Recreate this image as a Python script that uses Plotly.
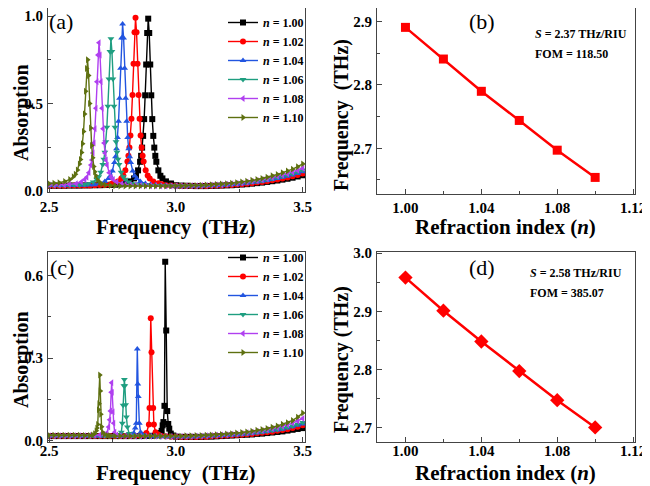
import plotly.graph_objects as go

SERIF = "Liberation Serif"
FRAME = "#444444"

N_LABELS = ["1.00", "1.02", "1.04", "1.06", "1.08", "1.10"]
COLORS = ["#000000", "#ff0000", "#2255e0", "#1f9e80", "#b040f0", "#5e7010"]
SYMBOLS = ["square", "circle", "triangle-up", "triangle-down", "triangle-left", "triangle-right"]

# ---------------- panel (a): absorption spectra (frequency THz, absorption) ----------------
A_N100 = [
    (2.50, .030), (2.52, .030), (2.54, .030), (2.56, .030), (2.58, .031), (2.60, .031), (2.62, .031), (2.64, .032),
    (2.66, .032), (2.68, .033), (2.70, .033), (2.72, .034), (2.74, .035), (2.76, .036), (2.78, .038),
    (2.801, .043), (2.821, .055), (2.835, .072), (2.843, .087), (2.851, .118), (2.859, .167), (2.863, .201),
    (2.867, .248), (2.871, .315), (2.875, .411), (2.879, .547), (2.883, .723), (2.887, .903), (2.891, .985),
    (2.895, .903), (2.899, .723), (2.903, .547), (2.907, .411), (2.911, .315), (2.915, .248), (2.919, .201),
    (2.923, .167), (2.931, .118), (2.939, .087), (2.947, .072), (2.961, .055), (2.981, .043),
    (3.00, .033), (3.02, .031), (3.04, .030), (3.06, .029), (3.08, .028), (3.10, .028), (3.12, .028), (3.14, .029),
    (3.16, .030), (3.18, .031), (3.20, .032), (3.22, .033), (3.24, .035), (3.26, .037), (3.28, .039), (3.30, .042),
    (3.32, .045), (3.34, .048), (3.36, .052), (3.38, .056), (3.40, .060), (3.42, .065), (3.44, .070), (3.46, .076),
    (3.48, .083), (3.50, .090),
]
A_N102 = [
    (2.50, .030), (2.52, .030), (2.54, .030), (2.56, .030), (2.58, .031), (2.60, .031), (2.62, .031), (2.64, .032),
    (2.66, .032), (2.68, .033), (2.70, .034), (2.72, .035), (2.74, .037),
    (2.751, .044), (2.771, .055), (2.785, .072), (2.793, .088), (2.801, .118), (2.809, .168), (2.813, .202),
    (2.817, .249), (2.821, .317), (2.825, .413), (2.829, .549), (2.833, .727), (2.837, .907), (2.841, .990),
    (2.845, .907), (2.849, .727), (2.853, .549), (2.857, .413), (2.861, .317), (2.865, .249), (2.869, .202),
    (2.873, .168), (2.881, .118), (2.889, .088), (2.897, .072), (2.911, .055), (2.931, .044), (2.945, .038),
    (2.96, .033), (2.98, .031), (3.00, .030), (3.02, .029), (3.04, .028), (3.06, .028), (3.08, .028), (3.10, .028),
    (3.12, .029), (3.14, .030), (3.16, .031), (3.18, .032), (3.20, .034), (3.22, .035), (3.24, .037), (3.26, .039),
    (3.28, .042), (3.30, .045), (3.32, .048), (3.34, .052), (3.36, .056), (3.38, .061), (3.40, .066), (3.42, .071),
    (3.44, .077), (3.46, .084), (3.48, .092), (3.50, .100),
]
A_N104 = [
    (2.50, .031), (2.52, .031), (2.54, .031), (2.56, .031), (2.58, .032), (2.60, .032), (2.62, .033), (2.64, .033),
    (2.66, .034), (2.68, .036),
    (2.700, .043), (2.720, .054), (2.734, .071), (2.742, .086), (2.750, .115), (2.758, .163), (2.762, .196),
    (2.766, .241), (2.770, .306), (2.774, .399), (2.778, .530), (2.782, .701), (2.786, .875), (2.790, .955),
    (2.794, .875), (2.798, .701), (2.802, .530), (2.806, .399), (2.810, .306), (2.814, .241), (2.818, .196),
    (2.822, .163), (2.830, .115), (2.838, .086), (2.846, .071), (2.860, .054), (2.880, .043),
    (2.90, .037), (2.92, .034), (2.94, .032), (2.96, .031), (2.98, .030), (3.00, .029), (3.02, .028), (3.04, .028),
    (3.06, .028), (3.08, .029), (3.10, .029), (3.12, .030), (3.14, .031), (3.16, .032), (3.18, .033), (3.20, .035),
    (3.22, .037), (3.24, .039), (3.26, .041), (3.28, .044), (3.30, .048), (3.32, .052), (3.34, .056), (3.36, .060),
    (3.38, .066), (3.40, .072), (3.42, .078), (3.44, .084), (3.46, .091), (3.48, .100), (3.50, .110),
]
A_N106 = [
    (2.50, .032), (2.52, .032), (2.54, .032), (2.56, .033), (2.58, .033), (2.60, .034), (2.62, .035), (2.64, .037),
    (2.654, .042), (2.674, .052), (2.688, .067), (2.696, .081), (2.704, .107), (2.712, .151), (2.716, .181),
    (2.720, .222), (2.724, .281), (2.728, .365), (2.732, .485), (2.736, .640), (2.740, .798), (2.744, .870),
    (2.748, .798), (2.752, .640), (2.756, .485), (2.760, .365), (2.764, .281), (2.768, .222), (2.772, .181),
    (2.776, .151), (2.784, .107), (2.792, .081), (2.800, .067), (2.814, .052), (2.834, .042),
    (2.86, .036), (2.88, .034), (2.90, .032), (2.92, .031), (2.94, .030), (2.96, .029), (2.98, .029), (3.00, .028),
    (3.02, .028), (3.04, .028), (3.06, .029), (3.08, .029), (3.10, .030), (3.12, .031), (3.14, .032), (3.16, .033),
    (3.18, .035), (3.20, .037), (3.22, .039), (3.24, .041), (3.26, .044), (3.28, .047), (3.30, .051), (3.32, .055),
    (3.34, .059), (3.36, .064), (3.38, .070), (3.40, .078), (3.42, .084), (3.44, .091), (3.46, .099), (3.48, .109),
    (3.50, .120),
]
A_N108 = [
    (2.50, .034), (2.52, .034), (2.54, .035), (2.56, .036), (2.58, .038),
    (2.607, .042), (2.627, .052), (2.641, .066), (2.649, .079), (2.657, .105), (2.665, .148), (2.669, .177),
    (2.673, .217), (2.677, .274), (2.681, .356), (2.685, .473), (2.689, .624), (2.693, .777), (2.697, .848),
    (2.701, .777), (2.705, .624), (2.709, .473), (2.713, .356), (2.717, .274), (2.721, .217), (2.725, .177),
    (2.729, .148), (2.737, .105), (2.745, .079), (2.753, .066), (2.767, .052), (2.787, .042),
    (2.80, .038), (2.82, .035), (2.84, .033), (2.86, .032), (2.88, .031), (2.90, .030), (2.92, .030), (2.94, .029),
    (2.96, .029), (2.98, .029), (3.00, .029), (3.02, .029), (3.04, .029), (3.06, .030), (3.08, .030), (3.10, .031),
    (3.12, .032), (3.14, .033), (3.16, .034), (3.18, .036), (3.20, .039), (3.22, .041), (3.24, .043), (3.26, .046),
    (3.28, .050), (3.30, .055), (3.32, .059), (3.34, .064), (3.36, .069), (3.38, .077), (3.40, .085), (3.42, .091),
    (3.44, .099), (3.46, .108), (3.48, .119), (3.50, .130),
]
A_N110 = [
    (2.50, .042), (2.52, .044), (2.54, .047),
    (2.562, .055), (2.582, .066), (2.596, .082), (2.604, .096), (2.612, .120), (2.620, .155), (2.624, .180),
    (2.628, .220), (2.632, .270), (2.636, .340), (2.640, .440), (2.644, .570), (2.648, .700), (2.652, .750),
    (2.656, .660), (2.660, .500), (2.664, .360), (2.668, .260), (2.672, .190), (2.676, .140), (2.680, .110),
    (2.684, .088), (2.692, .062), (2.700, .048), (2.708, .040), (2.722, .034), (2.742, .031),
    (2.76, .030), (2.78, .029), (2.80, .029), (2.82, .028), (2.84, .028), (2.86, .028), (2.88, .028), (2.90, .028),
    (2.92, .028), (2.94, .028), (2.96, .028), (2.98, .028), (3.00, .029), (3.02, .029), (3.04, .030), (3.06, .031),
    (3.08, .032), (3.10, .033), (3.12, .034), (3.14, .036), (3.16, .038), (3.18, .040), (3.20, .042), (3.22, .045),
    (3.24, .048), (3.26, .052), (3.28, .056), (3.30, .061), (3.32, .066), (3.34, .072), (3.36, .079), (3.38, .087),
    (3.40, .095), (3.42, .104), (3.44, .114), (3.46, .125), (3.48, .139), (3.50, .155),
]

# ---------------- panel (c): absorption spectra ----------------
C_N100 = [
    (2.50, .016), (2.52, .016), (2.54, .016), (2.56, .016), (2.58, .016), (2.60, .016), (2.62, .016), (2.64, .016),
    (2.66, .016), (2.68, .016), (2.70, .016), (2.72, .016), (2.74, .016), (2.76, .016), (2.78, .016), (2.80, .016),
    (2.82, .016), (2.84, .016), (2.86, .016), (2.88, .017), (2.90, .017), (2.92, .018),
    (2.938, .027), (2.944, .035), (2.948, .055), (2.951, .067), (2.955, .126), (2.958, .650), (2.962, .400),
    (2.966, .107), (2.970, .060), (2.974, .043), (2.980, .025), (2.990, .018),
    (3.00, .014), (3.02, .013), (3.04, .013), (3.06, .013), (3.08, .013), (3.10, .013), (3.12, .014), (3.14, .014),
    (3.16, .015), (3.18, .016), (3.20, .017), (3.22, .018), (3.24, .019), (3.26, .020), (3.28, .021), (3.30, .022),
    (3.32, .024), (3.34, .025), (3.36, .027), (3.38, .029), (3.40, .031), (3.42, .033), (3.44, .036), (3.46, .039),
    (3.48, .042), (3.50, .045),
]
C_N102 = [
    (2.50, .016), (2.52, .016), (2.54, .016), (2.56, .016), (2.58, .016), (2.60, .016), (2.62, .016), (2.64, .016),
    (2.66, .016), (2.68, .016), (2.70, .016), (2.72, .016), (2.74, .016), (2.76, .016), (2.78, .016), (2.80, .016),
    (2.82, .016), (2.84, .016), (2.86, .017),
    (2.876, .020), (2.884, .027), (2.8936, .058), (2.896, .118), (2.901, .445), (2.904, .321), (2.9106, .118),
    (2.9133, .058), (2.920, .030), (2.930, .022), (2.940, .017),
    (2.96, .015), (2.98, .014), (3.00, .014), (3.02, .013), (3.04, .013), (3.06, .013), (3.08, .013), (3.10, .014),
    (3.12, .014), (3.14, .015), (3.16, .016), (3.18, .017), (3.20, .018), (3.22, .019), (3.24, .020), (3.26, .021),
    (3.28, .023), (3.30, .024), (3.32, .026), (3.34, .028), (3.36, .030), (3.38, .032), (3.40, .035), (3.42, .038),
    (3.44, .041), (3.46, .045), (3.48, .050), (3.50, .055),
]
C_N104 = [
    (2.50, .016), (2.52, .016), (2.54, .016), (2.56, .016), (2.58, .016), (2.60, .016), (2.62, .016), (2.64, .016),
    (2.66, .016), (2.68, .016), (2.70, .016), (2.72, .016), (2.74, .016), (2.76, .016), (2.78, .016), (2.80, .016),
    (2.815, .017), (2.826, .022), (2.834, .027), (2.840, .045), (2.844, .063), (2.848, .333), (2.850, .205),
    (2.852, .160), (2.856, .063), (2.861, .030), (2.868, .022), (2.880, .017),
    (2.90, .016), (2.92, .015), (2.94, .015), (2.96, .014), (2.98, .014), (3.00, .014), (3.02, .014), (3.04, .014),
    (3.06, .014), (3.08, .014), (3.10, .015), (3.12, .015), (3.14, .016), (3.16, .017), (3.18, .018), (3.20, .019),
    (3.22, .020), (3.24, .021), (3.26, .023), (3.28, .024), (3.30, .026), (3.32, .028), (3.34, .030), (3.36, .033),
    (3.38, .035), (3.40, .038), (3.42, .041), (3.44, .045), (3.46, .050), (3.48, .055), (3.50, .060),
]
C_N106 = [
    (2.50, .016), (2.52, .016), (2.54, .016), (2.56, .016), (2.58, .016), (2.60, .016), (2.62, .016), (2.64, .016),
    (2.66, .016), (2.68, .016), (2.70, .016), (2.72, .016), (2.74, .016),
    (2.765, .017), (2.778, .022), (2.785, .030), (2.789, .063), (2.792, .128), (2.795, .199), (2.797, .222),
    (2.799, .199), (2.802, .130), (2.805, .085), (2.809, .049), (2.816, .025), (2.830, .018),
    (2.84, .016), (2.86, .016), (2.88, .015), (2.90, .015), (2.92, .015), (2.94, .014), (2.96, .014), (2.98, .014),
    (3.00, .014), (3.02, .014), (3.04, .014), (3.06, .014), (3.08, .015), (3.10, .015), (3.12, .016), (3.14, .017),
    (3.16, .018), (3.18, .019), (3.20, .020), (3.22, .021), (3.24, .022), (3.26, .024), (3.28, .025), (3.30, .027),
    (3.32, .029), (3.34, .032), (3.36, .034), (3.38, .037), (3.40, .040), (3.42, .044), (3.44, .048), (3.46, .053),
    (3.48, .059), (3.50, .065),
]
C_N108 = [
    (2.50, .017), (2.52, .017), (2.54, .017), (2.56, .017), (2.58, .017), (2.60, .017), (2.62, .017), (2.64, .017),
    (2.66, .018), (2.68, .019),
    (2.700, .020), (2.715, .022), (2.728, .027), (2.735, .049), (2.739, .075), (2.742, .107), (2.745, .175),
    (2.747, .210), (2.749, .175), (2.752, .104), (2.755, .063), (2.759, .030), (2.766, .020), (2.780, .017),
    (2.80, .016), (2.82, .016), (2.84, .015), (2.86, .015), (2.88, .015), (2.90, .015), (2.92, .015), (2.94, .015),
    (2.96, .015), (2.98, .015), (3.00, .015), (3.02, .015), (3.04, .015), (3.06, .015), (3.08, .016), (3.10, .016),
    (3.12, .017), (3.14, .018), (3.16, .019), (3.18, .020), (3.20, .021), (3.22, .023), (3.24, .024), (3.26, .026),
    (3.28, .028), (3.30, .030), (3.32, .033), (3.34, .036), (3.36, .039), (3.38, .043), (3.40, .047), (3.42, .052),
    (3.44, .057), (3.46, .063), (3.48, .071), (3.50, .080),
]
C_N110 = [
    (2.50, .019), (2.52, .019), (2.54, .019), (2.56, .019), (2.58, .019), (2.60, .019), (2.62, .019),
    (2.640, .018), (2.660, .018), (2.672, .020), (2.680, .025), (2.686, .035), (2.689, .045), (2.692, .058),
    (2.695, .112), (2.697, .134), (2.700, .238), (2.702, .180), (2.704, .095), (2.707, .050), (2.711, .030),
    (2.718, .022), (2.730, .018),
    (2.74, .017), (2.76, .016), (2.78, .016), (2.80, .016), (2.82, .016), (2.84, .016), (2.86, .016), (2.88, .016),
    (2.90, .016), (2.92, .016), (2.94, .016), (2.96, .016), (2.98, .016), (3.00, .016), (3.02, .016), (3.04, .017),
    (3.06, .017), (3.08, .018), (3.10, .018), (3.12, .019), (3.14, .020), (3.16, .021), (3.18, .022), (3.20, .024),
    (3.22, .025), (3.24, .027), (3.26, .029), (3.28, .031), (3.30, .034), (3.32, .037), (3.34, .040), (3.36, .044),
    (3.38, .048), (3.40, .053), (3.42, .059), (3.44, .065), (3.46, .073), (3.48, .085), (3.50, .100),
]

A_SERIES = [A_N100, A_N102, A_N104, A_N106, A_N108, A_N110]
C_SERIES = [C_N100, C_N102, C_N104, C_N106, C_N108, C_N110]

# ---------------- panels (b) and (d): resonance frequency vs refractive index ----------------
REFRACTIVE_INDEX = [1.00, 1.02, 1.04, 1.06, 1.08, 1.10]
RES_FREQ_B = [2.891, 2.841, 2.790, 2.744, 2.697, 2.654]
RES_FREQ_D = [2.958, 2.901, 2.848, 2.797, 2.747, 2.700]

# page body has an 8px margin: figure is 642x478 and positions are given in window pixels
OFF = 8
W, H = 650 - OFF, 486 - OFF


def px(x):
    return (x - OFF) / W


def py(y):
    return 1 - (y - OFF) / H


fig = go.Figure()

for i, pts in enumerate(A_SERIES):
    fig.add_trace(go.Scatter(
        x=[p[0] for p in pts], y=[p[1] for p in pts], mode="lines+markers",
        name=f"<i>n</i> = {N_LABELS[i]}", xaxis="x", yaxis="y", legend="legend",
        line=dict(color=COLORS[i], width=1.4),
        marker=dict(symbol=SYMBOLS[i], size=6, color=COLORS[i], line=dict(width=0)),
    ))
for i, pts in enumerate(C_SERIES):
    fig.add_trace(go.Scatter(
        x=[p[0] for p in pts], y=[p[1] for p in pts], mode="lines+markers",
        name=f"<i>n</i> = {N_LABELS[i]}", xaxis="x3", yaxis="y3", legend="legend2",
        line=dict(color=COLORS[i], width=1.4),
        marker=dict(symbol=SYMBOLS[i], size=6, color=COLORS[i], line=dict(width=0)),
    ))

fig.add_trace(go.Scatter(
    x=REFRACTIVE_INDEX, y=RES_FREQ_B, mode="lines+markers", xaxis="x2", yaxis="y2", showlegend=False,
    line=dict(color="#ff0000", width=2.5), marker=dict(symbol="square", size=9, color="#ff0000"),
))
fig.add_trace(go.Scatter(
    x=REFRACTIVE_INDEX, y=RES_FREQ_D, mode="lines+markers", xaxis="x4", yaxis="y4", showlegend=False,
    line=dict(color="#ff0000", width=2.5), marker=dict(symbol="diamond", size=11, color="#ff0000"),
))


def axis(domain, rng, tick0, dtick, fmt, minor_dtick, anchor, standoff):
    return dict(
        domain=domain, range=rng, tick0=tick0, dtick=dtick, tickformat=fmt, anchor=anchor,
        ticks="inside", ticklen=5, tickwidth=1.2, tickcolor=FRAME, ticklabelstandoff=standoff,
        showline=True, linecolor=FRAME, linewidth=1.2, mirror=True,
        showgrid=False, zeroline=False, automargin=False, ticklabeloverflow="allow",
        tickfont=dict(family=SERIF, size=15, color="black", weight="bold"),
        minor=dict(tick0=tick0, dtick=minor_dtick, ticks="inside", ticklen=3, tickwidth=1.2,
                   tickcolor=FRAME, showgrid=False),
    )


XL = [px(48), px(305)]
XR = [px(377), px(635)]
YT = [py(192), 1.0]
YTB = [py(194), 1.0]
YB = [py(442), py(252)]

legend_font = dict(family=SERIF, size=12, color="black", weight="bold")
fig.update_layout(
    width=W, height=H, margin=dict(l=0, r=0, t=0, b=0),
    paper_bgcolor="white", plot_bgcolor="white", showlegend=True,
    xaxis=axis(XL, [2.496, 3.509], 2.5, 0.5, ".1f", 0.25, "y", 1),
    yaxis=axis(YT, [-0.0057, 1.046], 0, 0.5, ".1f", 0.25, "x", 1),
    xaxis2=axis(XR, [0.985, 1.121], 1.0, 0.04, ".2f", 0.02, "y2", 0),
    yaxis2=axis(YTB, [2.6278, 2.9216], 2.7, 0.1, ".1f", 0.05, "x2", 1),
    xaxis3=axis(XL, [2.496, 3.509], 2.5, 0.5, ".1f", 0.25, "y3", -5),
    yaxis3=axis(YB, [-0.0055, 0.6855], 0, 0.3, ".1f", 0.15, "x3", 1),
    xaxis4=axis(XR, [0.985, 1.121], 1.0, 0.04, ".2f", 0.02, "y4", -5),
    yaxis4=axis(YB, [2.675, 3.002], 2.7, 0.1, ".1f", 0.05, "x4", 1),
    legend=dict(x=px(223), y=1.0, xanchor="left", yanchor="top", bgcolor="rgba(0,0,0,0)",
                font=legend_font, itemwidth=30, tracegroupgap=0),
    legend2=dict(x=px(223), y=py(243), xanchor="left", yanchor="top", bgcolor="rgba(0,0,0,0)",
                 font=legend_font, itemwidth=30, tracegroupgap=0),
)

label_font = dict(family=SERIF, size=22, color="black")
info_font = dict(family=SERIF, size=12, color="black", weight="bold")
title_font = dict(family=SERIF, size=21, color="black", weight="bold")
ytitle_font = dict(family=SERIF, size=20, color="black", weight="bold")
freq_title = "Frequency\u00a0 (THz)"
annotations = [
    dict(text="(a)", x=px(61), y=py(21), font=label_font),
    dict(text="(b)", x=px(482), y=py(21), font=label_font),
    dict(text="(c)", x=px(62), y=py(267), font=label_font),
    dict(text="(d)", x=px(482), y=py(267), font=label_font),
    dict(text="<i>S</i> = 2.37 THz/RIU", x=px(533), y=py(34), xanchor="left", font=info_font),
    dict(text="FOM = 118.50", x=px(533), y=py(54), xanchor="left", font=info_font),
    dict(text="<i>S</i> = 2.58 THz/RIU", x=px(528), y=py(273), xanchor="left", font=info_font),
    dict(text="FOM = 385.07", x=px(528), y=py(293), xanchor="left", font=info_font),
    # axis titles
    dict(text=freq_title, x=px(176), y=py(227), font=title_font),
    dict(text="Refraction index (<i>n</i>)", x=px(505), y=py(227), font=title_font),
    dict(text=freq_title, x=px(176), y=py(473), font=title_font),
    dict(text="Refraction index (<i>n</i>)", x=px(505), y=py(473), font=title_font),
    dict(text="Absorption", x=px(21), y=py(113), textangle=-90, font=ytitle_font),
    dict(text="Absorption", x=px(21), y=py(360), textangle=-90, font=ytitle_font),
    dict(text=freq_title, x=px(341), y=py(115), textangle=-90, font=ytitle_font),
    dict(text="Frequency (THz)", x=px(341), y=py(360), textangle=-90, font=ytitle_font),
]
for a in annotations:
    a.update(xref="paper", yref="paper", showarrow=False, yanchor="middle")
    a.setdefault("xanchor", "center")
fig.update_layout(annotations=annotations)

fig.write_html("out.html")
